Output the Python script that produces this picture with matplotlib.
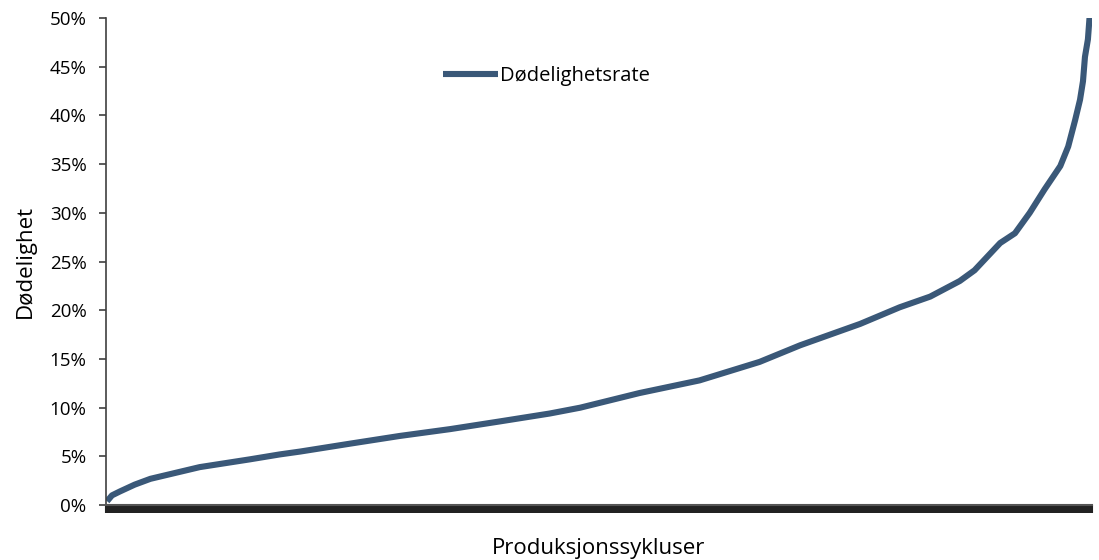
import numpy as np
import matplotlib
matplotlib.use("Agg")
import matplotlib.pyplot as plt
from matplotlib.ticker import PercentFormatter

# rank of production cycle (percent of all cycles, sorted) and mortality rate (%)
rank = [0.1, 0.6, 1.4, 2.9, 4.5, 7.0, 9.5, 14.6, 17.6, 19.7, 24.7, 29.8,
        34.9, 40.0, 45.0, 48.1, 54.1, 60.2, 66.3, 70.4, 76.5, 80.5, 83.6,
        86.6, 88.1, 90.7, 92.2, 93.7, 95.2, 96.8, 97.6, 98.3, 98.8, 99.1,
        99.3, 99.6, 99.8]
mortality = [0.4, 1.0, 1.4, 2.1, 2.7, 3.3, 3.9, 4.7, 5.2, 5.5, 6.3, 7.1,
             7.8, 8.6, 9.4, 10.0, 11.5, 12.8, 14.7, 16.4, 18.6, 20.3, 21.4,
             23.0, 24.1, 26.9, 27.9, 30.0, 32.4, 34.8, 36.8, 39.5, 41.6, 43.5,
             46.0, 47.8, 50.5]

plt.rcParams['font.family'] = ['Open Sans', 'DejaVu Sans']

fig = plt.figure(figsize=(10.99, 5.6), dpi=100)
ax = fig.add_axes([0.0965, 0.098, 0.897, 0.870])

ax.plot(rank, mortality, color='#3a5878', linewidth=4.4,
        solid_capstyle='butt', solid_joinstyle='round', label='Dødelighetsrate')

ax.set_xlim(0, 100)
ax.set_ylim(0, 50)
ax.set_yticks(np.arange(0, 51, 5))
ax.yaxis.set_major_formatter(PercentFormatter(decimals=0))
ax.tick_params(axis='y', direction='out', length=5, width=1.2, color='#404040',
               labelsize=13.5, pad=9)

# dense category ticks give the thick black band under the axis
ax.set_xticks(np.linspace(0, 100, 2000))
ax.set_xticklabels([])
ax.tick_params(axis='x', direction='out', length=6, width=1.5, color='#222222')

for s in ['top', 'right']:
    ax.spines[s].set_visible(False)
ax.spines['left'].set_color('#404040')
ax.spines['left'].set_linewidth(1.2)
ax.spines['bottom'].set_color('#555555')
ax.spines['bottom'].set_linewidth(1.5)

ax.set_xlabel('Produksjonssykluser', fontsize=16, labelpad=14)
ax.set_ylabel('Dødelighet', fontsize=16, labelpad=10)

ax.legend(loc='center left', bbox_to_anchor=(0.342, 0.881), frameon=False,
          fontsize=14.5, handlelength=2.7, handletextpad=0.1,
          borderpad=0, borderaxespad=0)

fig.savefig('out.png', dpi=100)
